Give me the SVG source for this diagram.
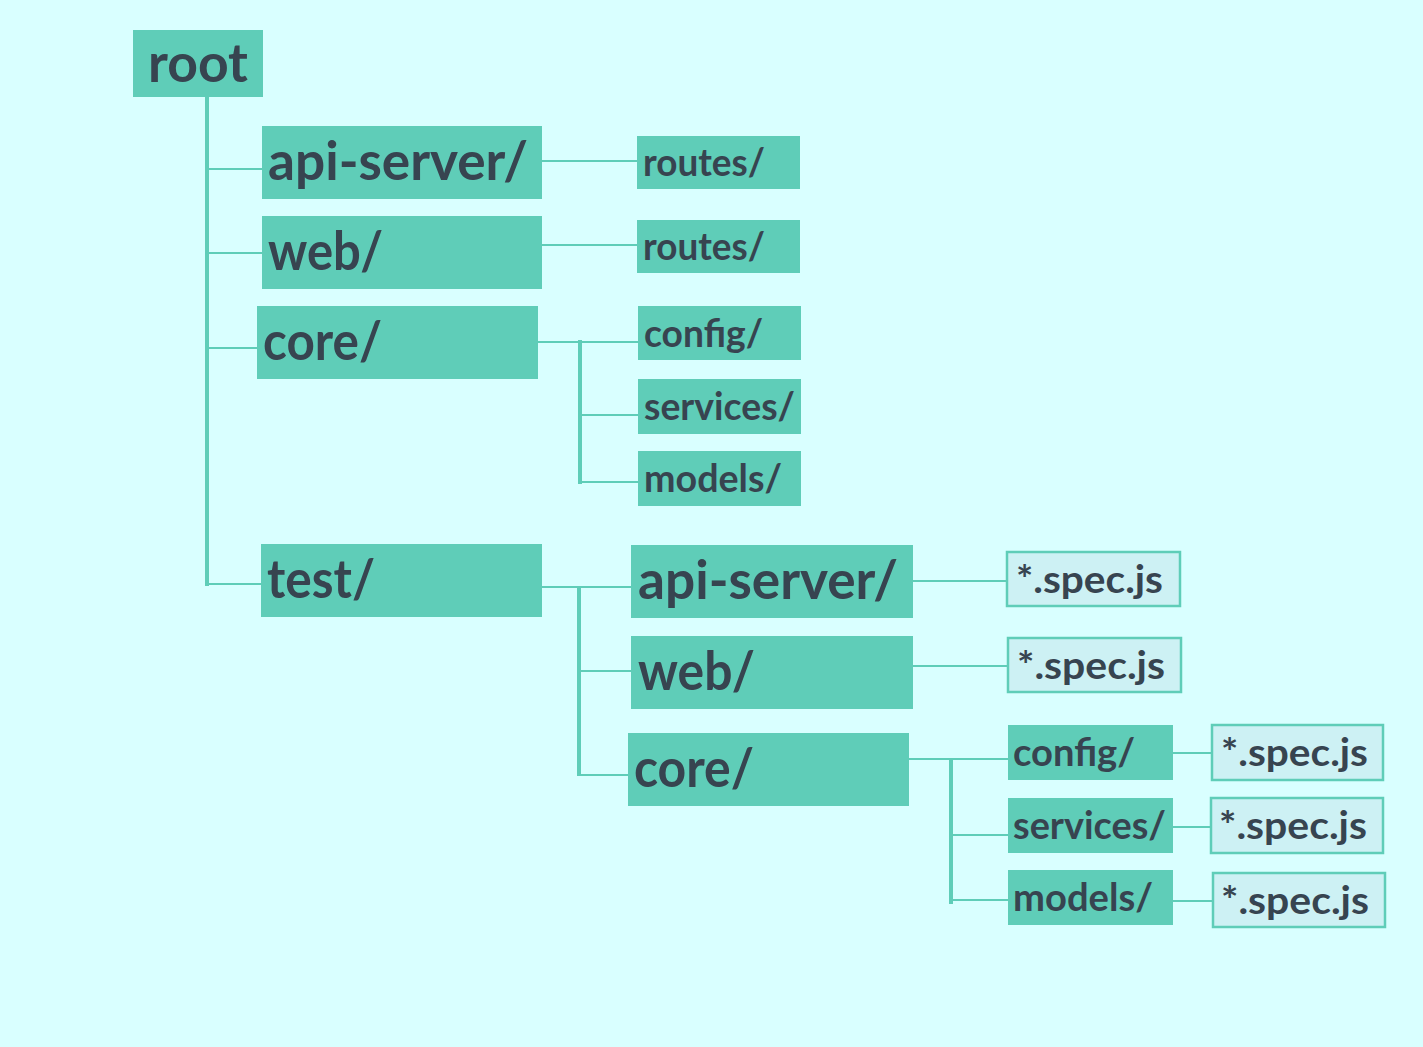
<svg xmlns="http://www.w3.org/2000/svg" width="1423" height="1047" viewBox="0 0 1423 1047">
<style>
.bg{fill:#d9ffff}
.box{fill:#5fcdb8}
.spec{fill:#cdf1f4;stroke:#5fcdb8;stroke-width:2.5}
.t{font-family:Lato,"Open Sans","Liberation Sans",sans-serif;font-weight:700;fill:#374450}
.big{font-size:53px}
.sm{font-size:39px}
.ln{stroke:#5fcdb8;stroke-width:2;fill:none}
.tr{stroke:#5fcdb8;stroke-width:4;fill:none}
</style>
<rect class="bg" x="0" y="0" width="1423" height="1047"/>
<g id="connectors">
<line class="tr" x1="207" y1="97" x2="207" y2="586"/>
<line class="ln" x1="207" y1="169" x2="262" y2="169"/>
<line class="ln" x1="207" y1="253" x2="262" y2="253"/>
<line class="ln" x1="207" y1="348" x2="257" y2="348"/>
<line class="ln" x1="207" y1="584" x2="261" y2="584"/>
<line class="ln" x1="542" y1="161" x2="637" y2="161"/>
<line class="ln" x1="542" y1="245" x2="637" y2="245"/>
<line class="ln" x1="538" y1="342" x2="638" y2="342"/>
<line class="tr" x1="580" y1="340" x2="580" y2="484"/>
<line class="ln" x1="580" y1="415" x2="638" y2="415"/>
<line class="ln" x1="580" y1="482" x2="638" y2="482"/>
<line class="ln" x1="542" y1="587" x2="631" y2="587"/>
<line class="tr" x1="579" y1="586" x2="579" y2="776"/>
<line class="ln" x1="579" y1="671" x2="631" y2="671"/>
<line class="ln" x1="579" y1="775" x2="628" y2="775"/>
<line class="ln" x1="913" y1="581" x2="1007" y2="581"/>
<line class="ln" x1="913" y1="666" x2="1008" y2="666"/>
<line class="ln" x1="909" y1="759" x2="1008" y2="759"/>
<line class="tr" x1="951" y1="758" x2="951" y2="904"/>
<line class="ln" x1="951" y1="835" x2="1008" y2="835"/>
<line class="ln" x1="951" y1="900" x2="1008" y2="900"/>
<line class="ln" x1="1173" y1="753" x2="1212" y2="753"/>
<line class="ln" x1="1173" y1="827" x2="1211" y2="827"/>
<line class="ln" x1="1173" y1="901" x2="1213" y2="901"/>
</g>
<g id="root"><rect class="box" x="133" y="30" width="130" height="67"/><text class="t big" x="148" y="82" textLength="100" lengthAdjust="spacingAndGlyphs">root</text></g>
<g id="api-server"><rect class="box" x="262" y="126" width="280" height="73"/><text class="t big" x="268" y="180" textLength="260" lengthAdjust="spacingAndGlyphs">api-server/</text></g>
<g id="web"><rect class="box" x="262" y="216" width="280" height="73"/><text class="t big" x="268" y="270" textLength="115" lengthAdjust="spacingAndGlyphs">web/</text></g>
<g id="core"><rect class="box" x="257" y="306" width="281" height="73"/><text class="t big" x="263" y="360" textLength="119" lengthAdjust="spacingAndGlyphs">core/</text></g>
<g id="test"><rect class="box" x="261" y="544" width="281" height="73"/><text class="t big" x="267" y="598" textLength="108" lengthAdjust="spacingAndGlyphs">test/</text></g>
<g id="api-routes"><rect class="box" x="637" y="136" width="163" height="53"/><text class="t sm" x="643" y="176" textLength="122" lengthAdjust="spacingAndGlyphs">routes/</text></g>
<g id="web-routes"><rect class="box" x="637" y="220" width="163" height="53"/><text class="t sm" x="643" y="260" textLength="122" lengthAdjust="spacingAndGlyphs">routes/</text></g>
<g id="core-config"><rect class="box" x="638" y="306" width="163" height="54"/><text class="t sm" x="644" y="347" textLength="119" lengthAdjust="spacingAndGlyphs">config/</text></g>
<g id="core-services"><rect class="box" x="638" y="379" width="163" height="55"/><text class="t sm" x="644" y="420" textLength="151" lengthAdjust="spacingAndGlyphs">services/</text></g>
<g id="core-models"><rect class="box" x="638" y="451" width="163" height="55"/><text class="t sm" x="644" y="492" textLength="138" lengthAdjust="spacingAndGlyphs">models/</text></g>
<g id="test-api-server"><rect class="box" x="631" y="545" width="282" height="73"/><text class="t big" x="638" y="599" textLength="260" lengthAdjust="spacingAndGlyphs">api-server/</text></g>
<g id="test-web"><rect class="box" x="631" y="636" width="282" height="73"/><text class="t big" x="638" y="690" textLength="117" lengthAdjust="spacingAndGlyphs">web/</text></g>
<g id="test-core"><rect class="box" x="628" y="733" width="281" height="73"/><text class="t big" x="634" y="787" textLength="120" lengthAdjust="spacingAndGlyphs">core/</text></g>
<g id="spec-api"><rect class="spec" x="1007" y="552" width="173" height="54"/><text class="t sm" x="1016" y="593" textLength="147" lengthAdjust="spacingAndGlyphs">*.spec.js</text></g>
<g id="spec-web"><rect class="spec" x="1008" y="638" width="173" height="54"/><text class="t sm" x="1017" y="679" textLength="148" lengthAdjust="spacingAndGlyphs">*.spec.js</text></g>
<g id="test-config"><rect class="box" x="1008" y="725" width="165" height="55"/><text class="t sm" x="1013" y="766" textLength="122" lengthAdjust="spacingAndGlyphs">config/</text></g>
<g id="test-services"><rect class="box" x="1008" y="798" width="165" height="55"/><text class="t sm" x="1013" y="839" textLength="153" lengthAdjust="spacingAndGlyphs">services/</text></g>
<g id="test-models"><rect class="box" x="1008" y="870" width="165" height="55"/><text class="t sm" x="1013" y="911" textLength="140" lengthAdjust="spacingAndGlyphs">models/</text></g>
<g id="spec-config"><rect class="spec" x="1212" y="725" width="171" height="55"/><text class="t sm" x="1221" y="766" textLength="147" lengthAdjust="spacingAndGlyphs">*.spec.js</text></g>
<g id="spec-services"><rect class="spec" x="1211" y="798" width="172" height="55"/><text class="t sm" x="1219" y="839" textLength="148" lengthAdjust="spacingAndGlyphs">*.spec.js</text></g>
<g id="spec-models"><rect class="spec" x="1213" y="873" width="172" height="54"/><text class="t sm" x="1221" y="914" textLength="148" lengthAdjust="spacingAndGlyphs">*.spec.js</text></g>
</svg>
